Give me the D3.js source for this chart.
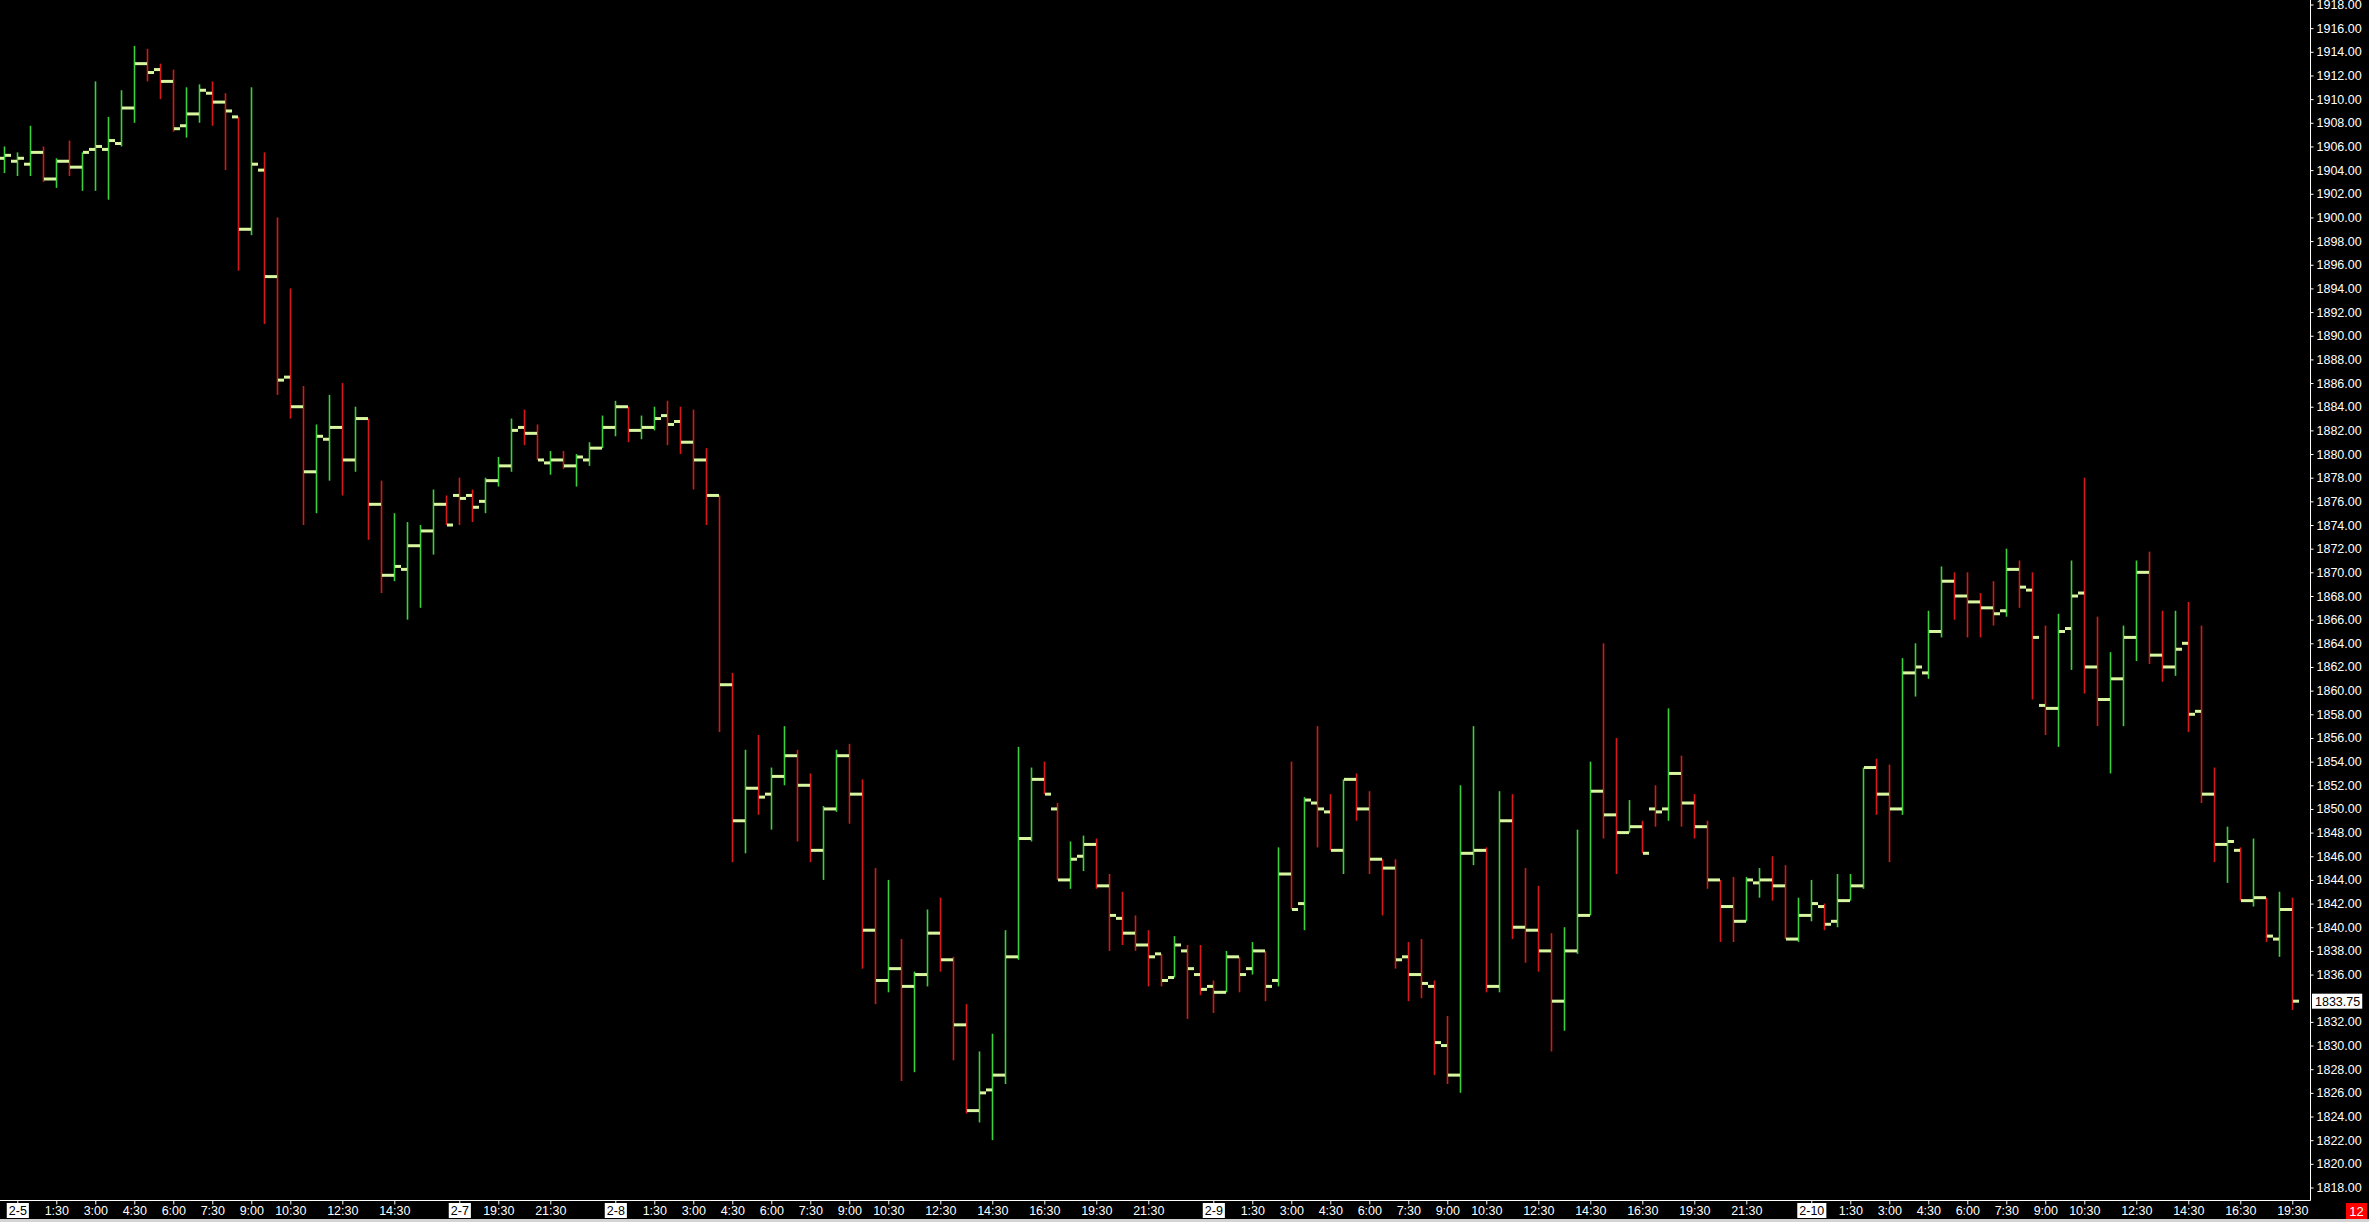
<!DOCTYPE html>
<html><head><meta charset="utf-8">
<script src="https://cdn.jsdelivr.net/npm/d3@7"></script>
<style>
html,body{margin:0;padding:0;background:#000;overflow:hidden}
svg text{font-family:"Liberation Sans",Arial,sans-serif}
</style></head><body>
<svg id="c" width="2369" height="1222"></svg>
<script>
// ---- data: 30-minute OHLC bars ----
const opens=[1905.0,1904.75,1904.5,1905.5,1903.25,1904.75,1904.25,1905.75,1905.75,1906.25,
1909.25,1913.0,1912.5,1911.5,1907.75,1908.75,1910.5,1909.75,1908.5,1899.0,
1904.0,1895.0,1886.5,1884.0,1878.5,1881.25,1882.25,1879.5,1883.0,1875.75,
1869.75,1870.25,1872.25,1873.5,1875.75,1876.5,1876.5,1876.0,1877.75,1879.0,
1882.25,1881.75,1879.25,1879.5,1879.0,1879.5,1880.5,1882.25,1884.0,1882.0,
1882.25,1883.25,1882.75,1881.0,1879.5,1876.5,1860.5,1849.0,1851.75,1851.25,
1852.75,1854.5,1852.0,1846.5,1850.0,1854.5,1851.25,1839.75,1835.5,1836.5,
1835.0,1836.0,1839.5,1837.25,1831.75,1824.5,1826.25,1827.5,1837.5,1847.5,
1852.5,1850.0,1844.0,1846.0,1847.0,1843.5,1840.75,1839.5,1838.5,1837.75,
1835.75,1838.0,1836.0,1835.0,1834.5,1837.5,1836.5,1838.0,1835.5,1844.5,
1842.0,1850.5,1849.75,1846.5,1852.5,1850.0,1845.75,1845.0,1837.5,1836.0,
1835.0,1830.0,1827.5,1846.25,1846.5,1835.0,1849.0,1840.0,1839.75,1838.0,
1833.75,1838.0,1841.0,1851.5,1849.5,1848.0,1848.5,1850.0,1850.0,1853.0,
1850.5,1848.5,1844.0,1841.75,1840.5,1843.75,1844.0,1843.5,1839.0,1841.0,
1841.75,1840.5,1842.25,1843.5,1853.5,1851.25,1850.0,1861.5,1861.5,1865.0,
1869.25,1868.0,1867.5,1867.0,1866.75,1870.25,1868.5,1858.75,1858.5,1865.25,
1868.25,1862.0,1859.25,1861.0,1864.5,1870.0,1863.0,1862.0,1864.0,1858.25,
1851.25,1847.0,1846.5,1842.25,1842.5,1839.0,1841.5];
const highs=[1906.0,1905.5,1907.75,1906.0,1905.0,1906.5,1905.5,1911.5,1908.5,1910.75,
1914.5,1914.25,1913.0,1912.5,1911.0,1911.25,1911.5,1910.5,1908.5,1911.0,
1905.5,1900.0,1894.0,1885.75,1882.5,1885.0,1886.0,1884.0,1883.0,1877.75,
1875.0,1874.25,1874.0,1877.0,1876.5,1878.0,1877.0,1878.0,1879.75,1883.0,
1883.75,1882.5,1880.25,1880.25,1880.0,1881.0,1883.25,1884.5,1884.0,1883.25,
1884.0,1884.5,1884.0,1883.75,1880.5,1876.5,1861.5,1855.0,1856.25,1853.5,
1857.0,1855.0,1853.0,1850.25,1855.0,1855.5,1852.5,1845.0,1844.0,1839.0,
1836.25,1841.5,1842.5,1837.5,1833.5,1829.5,1831.0,1839.75,1855.25,1853.5,
1854.0,1850.5,1847.25,1847.75,1847.5,1844.5,1843.0,1841.0,1839.75,1837.75,
1839.25,1838.5,1838.5,1835.5,1838.0,1837.5,1838.75,1838.0,1846.75,1854.0,
1851.0,1857.0,1851.25,1852.5,1853.0,1851.5,1845.75,1845.75,1838.75,1839.0,
1835.5,1832.5,1852.0,1857.0,1846.75,1851.5,1851.25,1845.0,1843.5,1839.5,
1840.0,1848.25,1854.0,1864.0,1856.0,1850.75,1849.0,1852.0,1858.5,1854.5,
1851.25,1849.0,1844.0,1844.25,1844.25,1845.0,1846.0,1845.25,1842.5,1844.0,
1842.0,1844.5,1844.5,1853.5,1854.25,1853.75,1862.75,1864.0,1866.75,1870.5,
1870.0,1870.0,1868.25,1869.25,1872.0,1871.0,1870.0,1865.5,1866.5,1871.0,
1878.0,1866.25,1863.25,1865.5,1871.0,1871.75,1866.75,1866.75,1867.5,1865.5,
1853.5,1848.5,1846.75,1847.5,1842.5,1843.0,1842.5];
const lows=[1903.75,1903.5,1903.5,1903.0,1902.5,1903.5,1902.25,1902.25,1901.5,1906.0,
1908.0,1911.5,1910.0,1907.25,1906.75,1908.0,1907.75,1904.0,1895.5,1898.5,
1891.0,1885.0,1883.0,1874.0,1875.0,1877.75,1876.5,1878.5,1872.75,1868.25,
1869.25,1866.0,1867.0,1871.5,1874.0,1874.0,1874.25,1875.0,1877.25,1878.5,
1880.75,1879.5,1878.25,1878.75,1877.25,1879.0,1880.5,1881.5,1881.0,1881.25,
1882.0,1880.75,1880.0,1877.0,1874.0,1856.5,1845.5,1846.25,1849.5,1848.25,
1852.0,1847.25,1845.5,1844.0,1849.75,1848.75,1836.5,1833.5,1834.5,1827.0,
1827.75,1835.0,1836.25,1828.75,1824.25,1823.5,1822.0,1826.75,1837.25,1847.25,
1851.25,1844.0,1843.25,1844.75,1843.25,1838.0,1838.5,1838.0,1835.0,1835.0,
1835.75,1832.25,1834.25,1832.75,1834.5,1834.5,1836.0,1833.75,1835.0,1841.5,
1839.75,1846.75,1846.5,1844.5,1849.0,1844.5,1841.0,1836.5,1833.75,1834.0,
1827.5,1826.75,1826.0,1845.25,1834.5,1834.5,1839.0,1837.0,1836.25,1829.5,
1831.25,1837.75,1841.0,1847.5,1844.5,1848.0,1846.25,1848.5,1849.0,1848.5,
1847.5,1843.25,1838.75,1838.75,1840.5,1842.5,1842.25,1839.0,1838.75,1840.5,
1839.75,1840.0,1842.25,1843.25,1849.5,1845.5,1849.5,1859.5,1861.0,1864.5,
1866.0,1864.5,1864.5,1865.5,1866.25,1867.0,1859.25,1856.25,1855.25,1861.75,
1859.75,1857.0,1853.0,1857.0,1862.5,1862.25,1860.75,1861.25,1856.5,1850.5,
1845.5,1843.75,1842.25,1841.75,1838.75,1837.5,1833.0];
const closes=[1905.25,1905.0,1905.5,1903.25,1904.75,1904.25,1905.5,1906.0,1906.5,1909.25,
1913.0,1912.25,1911.5,1907.5,1908.75,1910.75,1909.75,1909.0,1899.0,1904.5,
1895.0,1886.25,1884.0,1878.5,1881.5,1882.25,1879.5,1883.0,1875.75,1869.75,
1870.5,1872.25,1873.5,1875.75,1874.0,1876.25,1875.5,1877.75,1879.0,1882.0,
1881.75,1879.5,1879.5,1879.0,1879.75,1880.5,1882.25,1884.0,1882.0,1882.25,
1883.0,1882.5,1881.0,1879.5,1876.5,1860.5,1849.0,1851.75,1851.0,1852.75,
1854.5,1852.0,1846.5,1850.0,1854.5,1851.25,1839.75,1835.5,1836.5,1835.0,
1836.0,1839.5,1837.25,1831.75,1824.5,1826.0,1827.5,1837.5,1847.5,1852.5,
1851.25,1844.0,1845.75,1847.0,1843.5,1841.0,1839.5,1838.5,1837.5,1835.5,
1838.5,1836.5,1834.75,1834.5,1837.5,1836.0,1838.0,1835.0,1844.5,1841.5,
1850.75,1850.0,1846.5,1852.5,1850.0,1845.75,1845.0,1837.25,1836.0,1835.25,
1830.25,1827.5,1846.25,1846.5,1835.0,1849.0,1840.0,1839.75,1838.0,1833.75,
1838.0,1841.0,1851.5,1849.5,1848.0,1848.5,1846.25,1849.75,1853.0,1850.5,
1848.5,1844.0,1841.75,1840.5,1844.0,1844.0,1843.5,1839.0,1841.0,1842.0,
1840.25,1842.25,1843.5,1853.5,1851.25,1850.0,1861.5,1862.0,1865.0,1869.25,
1868.0,1867.5,1867.0,1866.5,1870.25,1868.75,1864.5,1858.5,1865.0,1868.0,
1862.0,1859.25,1861.0,1864.5,1870.0,1863.0,1862.0,1863.5,1858.0,1851.25,
1847.0,1847.25,1842.25,1842.5,1839.25,1841.5,1833.75];

// time-axis labels (bar index where each label sits)
const xTickIdx=[1,4,7,10,13,16,19,22,26,30,35,38,42,47,50,53,56,59,62,65,68,72,76,80,84,88,
93,96,99,102,105,108,111,114,118,122,126,130,134,139,142,145,148,151,154,157,160,164,168,172,176];
const xTickLbl=["2-5","1:30","3:00","4:30","6:00","7:30","9:00","10:30","12:30","14:30",
"2-7","19:30","21:30","2-8","1:30","3:00","4:30","6:00","7:30","9:00","10:30","12:30","14:30","16:30","19:30","21:30",
"2-9","1:30","3:00","4:30","6:00","7:30","9:00","10:30","12:30","14:30","16:30","19:30","21:30",
"2-10","1:30","3:00","4:30","6:00","7:30","9:00","10:30","12:30","14:30","16:30","19:30"];
const priceTicks=d3.range(1818,1918.01,2);
const lastPrice=1833.75;
const counterLabel="12";

// ---- drawing ----
const W=2369,H=1222, axisX=2310, axisY=1200;
const GREEN="#3ad13a", RED="#d81818", TICK="#d8f5a0";
const svg=d3.select("#c");
svg.append("rect").attr("width",W).attr("height",H).attr("fill","#000");
svg.append("rect").attr("x",0).attr("y",1219).attr("width",W).attr("height",3).attr("fill","#d4d4d4");

const n=opens.length;
const x=d3.scaleLinear().domain([0,n-1]).range([4.3,4.3+13*(n-1)]);
const y=d3.scaleLinear().domain([1818,1918]).range([1187.5,4.5]);
const data=d3.range(n).map(i=>({i,o:opens[i],h:highs[i],l:lows[i],c:closes[i]}));

const g=svg.append("g");
g.selectAll("line.bar").data(data).join("line").attr("class","bar")
 .attr("x1",d=>Math.round(x(d.i))+0.5).attr("x2",d=>Math.round(x(d.i))+0.5)
 .attr("y1",d=>y(d.h)).attr("y2",d=>y(d.l))
 .attr("stroke",d=>d.c>=d.o?GREEN:RED).attr("stroke-width",1.6);
g.selectAll("rect.op").data(data).join("rect").attr("class","op")
 .attr("x",d=>Math.round(x(d.i))-6).attr("y",d=>y(d.o)-1.5)
 .attr("width",6).attr("height",3).attr("fill",TICK);
g.selectAll("rect.cl").data(data).join("rect").attr("class","cl")
 .attr("x",d=>Math.round(x(d.i))+1).attr("y",d=>y(d.c)-1.5)
 .attr("width",6).attr("height",3).attr("fill",TICK);

// right price axis
const shownTicks=priceTicks.filter(p=>Math.abs(y(p)-y(lastPrice))>10);
const ya=svg.append("g").attr("transform",`translate(${axisX+0.5},0)`)
 .call(d3.axisRight(y).tickValues(shownTicks).tickFormat(d3.format(".2f")).tickSize(3).tickPadding(3));
ya.select(".domain").remove();
ya.selectAll("line").attr("stroke","#fff");
ya.selectAll("text").attr("fill","#fff").attr("font-size","12.5px").attr("font-family","Liberation Sans, Arial, sans-serif");
svg.append("line").attr("x1",axisX+0.5).attr("x2",axisX+0.5).attr("y1",0).attr("y2",axisY+0.5)
 .attr("stroke","#fff").attr("stroke-width",1);

// bottom time axis
const xa=svg.append("g").attr("transform",`translate(0,${axisY+0.5})`)
 .call(d3.axisBottom(x).tickValues(xTickIdx).tickFormat((d,i)=>xTickLbl[i]).tickSize(4).tickPadding(3));
xa.select(".domain").remove();
xa.selectAll("line").attr("stroke","#fff");
xa.selectAll("text").attr("fill","#fff").attr("font-size","12.5px").attr("font-family","Liberation Sans, Arial, sans-serif")
 .attr("dy","0.6em");
xa.selectAll(".tick").each(function(d,i){
  if(xTickLbl[i].indexOf("-")>=0){
    const t=d3.select(this).select("text");
    const bb=t.node().getBBox();
    d3.select(this).insert("rect","text").attr("x",bb.x-2).attr("y",2.5).attr("width",bb.width+4).attr("height",15).attr("fill","#fff");
    t.attr("fill","#000");
  }
});
svg.append("line").attr("x1",0).attr("x2",axisX+0.5).attr("y1",axisY+0.5).attr("y2",axisY+0.5)
 .attr("stroke","#fff").attr("stroke-width",1);

// last price label
const lp=svg.append("g").attr("transform",`translate(${axisX+2},${y(lastPrice)})`);
const lpt=lp.append("text").attr("x",3).attr("dy","0.35em").attr("fill","#000").attr("font-size","12.5px").text(d3.format(".2f")(lastPrice));
const lbb=lpt.node().getBBox();
lp.insert("rect","text").attr("x",0).attr("y",-7.5).attr("width",lbb.width+5).attr("height",15).attr("fill","#fff");

// counter box
const cg=svg.append("g").attr("transform","translate(2346,1203)");
cg.append("rect").attr("width",21).attr("height",16).attr("fill","#f00");
cg.append("text").attr("x",10.5).attr("y",12.5).attr("text-anchor","middle").attr("fill","#fff").attr("font-size","13px").text(counterLabel);
</script></body></html>
